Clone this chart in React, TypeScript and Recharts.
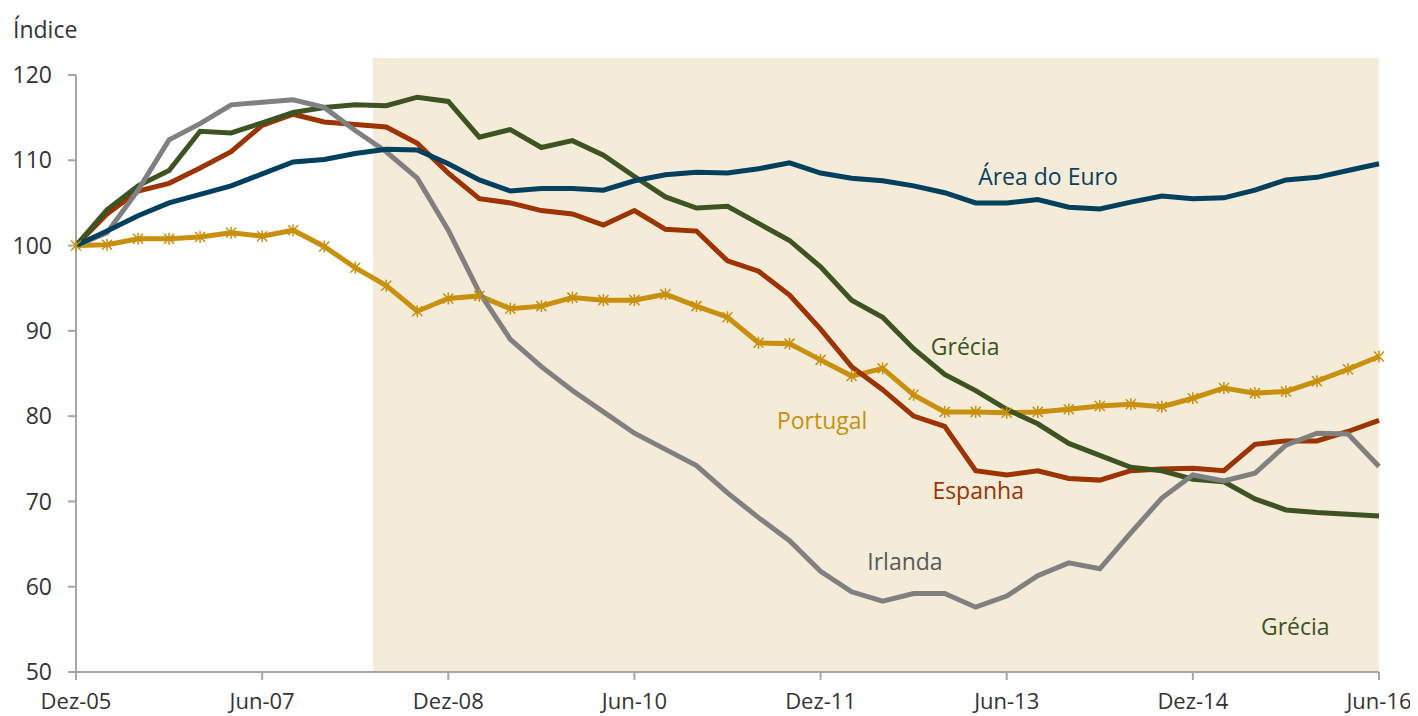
import { LineChart, Line, XAxis, YAxis, ReferenceArea, ReferenceDot } from "recharts";

const tickLabels = ["Dez-05", "Jun-07", "Dez-08", "Jun-10", "Dez-11", "Jun-13", "Dez-14", "Jun-16"];
const tickIdx = [0, 6, 12, 18, 24, 30, 36, 42];

const areaEuro = [
  100, 101.7, 103.5, 105.0, 106.0, 107.0, 108.4, 109.8, 110.1, 110.8, 111.3, 111.2, 109.6, 107.7,
  106.4, 106.7, 106.7, 106.5, 107.6, 108.3, 108.6, 108.5, 109.0, 109.7, 108.5, 107.9, 107.6, 107.0,
  106.2, 105.0, 105.0, 105.4, 104.5, 104.3, 105.1, 105.8, 105.5, 105.6, 106.5, 107.7, 108.0, 108.8,
  109.6,
];
const grecia = [
  100, 104.2, 107.0, 108.8, 113.4, 113.2, 114.4, 115.6, 116.2, 116.5, 116.4, 117.4, 116.9, 112.7,
  113.6, 111.5, 112.3, 110.6, 108.1, 105.7, 104.4, 104.6, 102.6, 100.6, 97.5, 93.6, 91.6, 87.9,
  84.9, 83.0, 80.8, 79.1, 76.8, 75.4, 74.0, 73.6, 72.6, 72.3, 70.3, 69.0, 68.7, 68.5, 68.3,
];
const espanha = [
  100, 103.7, 106.4, 107.3, 109.1, 111.0, 114.1, 115.4, 114.5, 114.2, 113.9, 112.0, 108.5, 105.5,
  105.0, 104.1, 103.7, 102.4, 104.1, 101.9, 101.7, 98.2, 97.0, 94.2, 90.2, 85.8, 83.1, 80.0, 78.8,
  73.6, 73.1, 73.6, 72.7, 72.5, 73.6, 73.8, 73.9, 73.6, 76.7, 77.1, 77.1, 78.2, 79.5,
];
const irlanda = [
  100, 101.5, 106.5, 112.4, 114.3, 116.5, 116.8, 117.1, 116.2, 113.5, 111.0, 107.9, 101.8, 94.5,
  89.0, 85.8, 83.0, 80.5, 78.0, 76.1, 74.2, 71.0, 68.1, 65.4, 61.8, 59.4, 58.3, 59.2, 59.2, 57.6,
  58.9, 61.3, 62.8, 62.1, 66.3, 70.4, 73.1, 72.4, 73.3, 76.6, 78.0, 77.9, 74.1,
];
const portugal = [
  100, 100.1, 100.8, 100.8, 101.0, 101.5, 101.1, 101.8, 99.9, 97.4, 95.3, 92.3, 93.8, 94.1, 92.6,
  92.9, 93.9, 93.6, 93.6, 94.3, 92.9, 91.6, 88.6, 88.5, 86.6, 84.7, 85.6, 82.5, 80.5, 80.5, 80.4,
  80.5, 80.8, 81.2, 81.4, 81.1, 82.1, 83.3, 82.7, 82.9, 84.1, 85.5, 87.0,
];

const data = areaEuro.map((v, i) => ({
  i,
  euro: v,
  grecia: grecia[i],
  espanha: espanha[i],
  irlanda: irlanda[i],
  portugal: portugal[i],
}));

const FONT = "'Open Sans', sans-serif";
const AXIS = "#A6A6A6";

const StarDot = (props: any) => {
  const { cx, cy } = props;
  if (cx == null || cy == null) return null;
  const s = 5;
  return (
    <g stroke="#C8900E" strokeWidth={1.5}>
      <line x1={cx - s} y1={cy - s} x2={cx + s} y2={cy + s} />
      <line x1={cx - s} y1={cy + s} x2={cx + s} y2={cy - s} />
      <line x1={cx} y1={cy - s - 1} x2={cx} y2={cy + s + 1} />
    </g>
  );
};

const lbl = (value: string, fill: string) => ({
  value,
  position: "center" as const,
  fill,
  fontSize: 23,
  fontFamily: FONT,
});

export default function App() {
  return (
    <div style={{ position: "relative", width: 1410, height: 708, fontFamily: FONT }}>
      <div style={{ position: "absolute", left: 5, top: 5, fontSize: 23, color: "#333" }}>Índice</div>
      <LineChart
        width={1410}
        height={708}
        data={data}
        margin={{ top: 67, right: 39, left: 0, bottom: 0 }}
        style={{ overflow: "visible" }}
      >
        <ReferenceArea x1={9.57} x2={42} y1={50} y2={122} fill="#F4ECD8" fillOpacity={1} stroke="none" ifOverflow="visible" />
        <XAxis
          dataKey="i"
          type="number"
          domain={[0, 42]}
          ticks={tickIdx}
          tickFormatter={(v: number) => tickLabels[tickIdx.indexOf(v)]}
          stroke={AXIS}
          strokeWidth={2}
          tickSize={8}
          height={44}
          tick={{ fill: "#333", fontSize: 22, fontFamily: FONT, dy: 11 }}
        />
        <YAxis
          domain={[50, 120]}
          ticks={[50, 60, 70, 80, 90, 100, 110, 120]}
          stroke={AXIS}
          strokeWidth={2}
          tickSize={8}
          width={68}
          tick={{ fill: "#333", fontSize: 23, fontFamily: FONT, dx: -14 }}
          allowDataOverflow
        />
        <Line dataKey="portugal" stroke="#C8900E" strokeWidth={5} dot={<StarDot />} isAnimationActive={false} />
        <Line dataKey="espanha" stroke="#9C3300" strokeWidth={5} dot={false} isAnimationActive={false} />
        <Line dataKey="grecia" stroke="#3D5321" strokeWidth={5} dot={false} isAnimationActive={false} />
        <Line dataKey="irlanda" stroke="#808080" strokeWidth={5} dot={false} isAnimationActive={false} />
        <Line dataKey="euro" stroke="#003F5E" strokeWidth={5} dot={false} isAnimationActive={false} />
        <ReferenceDot x={31.33} y={108.1} r={0} stroke="none" fill="none" label={lbl("Área do Euro", "#0B3F5C")} />
        <ReferenceDot x={28.66} y={88.1} r={0} stroke="none" fill="none" label={lbl("Grécia", "#3D5321")} />
        <ReferenceDot x={24.05} y={79.4} r={0} stroke="none" fill="none" label={lbl("Portugal", "#C8900E")} />
        <ReferenceDot x={29.08} y={71.3} r={0} stroke="none" fill="none" label={lbl("Espanha", "#9C3300")} />
        <ReferenceDot x={26.72} y={62.9} r={0} stroke="none" fill="none" label={lbl("Irlanda", "#595959")} />
        <ReferenceDot x={39.3} y={55.3} r={0} stroke="none" fill="none" label={lbl("Grécia", "#3D5321")} />
      </LineChart>
    </div>
  );
}
